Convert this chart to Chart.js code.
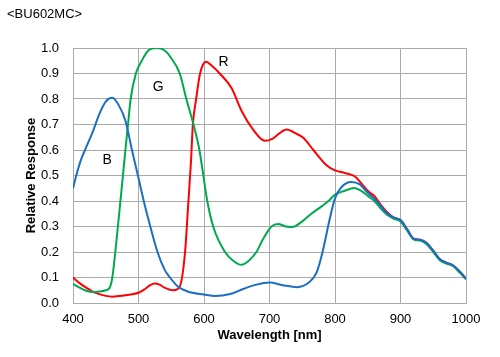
<!DOCTYPE html>
<html>
<head>
<meta charset="utf-8">
<script src="https://cdn.jsdelivr.net/npm/chart.js@4.4.1/dist/chart.umd.min.js"></script>
<style>
html,body{margin:0;padding:0;background:#fff;}
#wrap{width:500px;height:357px;position:relative;}
</style>
</head>
<body>
<div id="wrap"><canvas id="c" width="500" height="357"></canvas></div>
<script>
const chartTitle = "<BU602MC>";
const xTitle = "Wavelength [nm]";
const yTitle = "Relative Response";

const blueWl = [400,405,412,420,430,440,450,460,470,480,490,500,508,518,529,540,548,560,575,600,617,640,660,680,700,720,742,760,772,781,792,800,810,825,838,850,860,870,880,890,900,910,920,930,940,950,960,970,980,990,1000];
const blueVal = [0.45,0.50,0.56,0.61,0.67,0.74,0.79,0.805,0.775,0.715,0.60,0.49,0.40,0.30,0.20,0.13,0.10,0.065,0.045,0.033,0.027,0.035,0.055,0.072,0.08,0.07,0.062,0.08,0.12,0.20,0.33,0.41,0.455,0.475,0.465,0.432,0.41,0.38,0.35,0.335,0.325,0.29,0.252,0.248,0.235,0.205,0.172,0.158,0.148,0.125,0.095];

const greenWl = [400,410,420,430,440,450,456,460,467,472,477,480,484,488,496,505,515,528,540,550,563,573,584,593,599,605,614,632,645,657,668,680,690,703,713,725,735,750,764,780,790,800,815,829,840,850,860,870,880,890,900,910,920,930,940,950,960,970,980,990,1000];
const greenVal = [0.075,0.06,0.048,0.043,0.045,0.05,0.06,0.10,0.26,0.39,0.52,0.60,0.70,0.80,0.90,0.95,0.99,1.0,0.99,0.96,0.90,0.80,0.70,0.60,0.50,0.40,0.30,0.20,0.165,0.15,0.165,0.20,0.25,0.30,0.31,0.30,0.298,0.32,0.35,0.38,0.40,0.425,0.44,0.451,0.44,0.42,0.40,0.37,0.345,0.33,0.32,0.285,0.25,0.245,0.23,0.20,0.168,0.155,0.145,0.12,0.093];

const redWl = [400,410,420,430,440,450,460,470,480,490,500,510,518,525,532,540,553,563,571,576,580,583,588,594,603,612,624,642,658,675,693,705,715,726,740,752,767,787,800,815,830,840,851,860,870,880,890,900,910,920,930,940,950,960,970,980,990,1000];
const redVal = [0.10,0.078,0.06,0.045,0.035,0.028,0.025,0.027,0.03,0.034,0.04,0.055,0.07,0.076,0.072,0.06,0.05,0.065,0.197,0.39,0.55,0.70,0.80,0.90,0.946,0.93,0.90,0.843,0.75,0.68,0.636,0.645,0.665,0.68,0.665,0.647,0.60,0.54,0.52,0.51,0.497,0.47,0.437,0.42,0.385,0.355,0.335,0.325,0.29,0.252,0.248,0.235,0.205,0.172,0.158,0.148,0.125,0.095];

const curveLabels = ["B","G","R"];
const curveLabelWl = [452,530,630];
const curveLabelVal = [0.562,0.848,0.946];

function pts(xs, ys){ return xs.map((x,i)=>({x:x,y:ys[i]})); }

const labelPlugin = {
  id:'curveLabels',
  afterDatasetsDraw(chart){
    const ctx = chart.ctx, xs = chart.scales.x, ys = chart.scales.y;
    ctx.save();
    ctx.font = '14px "Liberation Sans", Arial, sans-serif';
    ctx.fillStyle = '#000';
    ctx.textAlign = 'center';
    ctx.textBaseline = 'middle';
    curveLabels.forEach((t,i)=>{
      ctx.fillText(t, xs.getPixelForValue(curveLabelWl[i]), ys.getPixelForValue(curveLabelVal[i]));
    });
    ctx.restore();
  }
};
const titlePlugin = {
  id:'topTitle',
  afterDraw(chart){
    const ctx = chart.ctx;
    ctx.save();
    ctx.font = '13px "Liberation Sans", Arial, sans-serif';
    ctx.fillStyle = '#000';
    ctx.textAlign = 'left';
    ctx.textBaseline = 'middle';
    ctx.fillText(chartTitle, 7, 14);
    ctx.restore();
  }
};

const font = {family:'"Liberation Sans", Arial, sans-serif', size:13};
const gridColor = '#aaaaaa';

new Chart(document.getElementById('c'), {
  type:'line',
  data:{
    datasets:[
      {label:'B', data:pts(blueWl,blueVal), borderColor:'#1a6fc4', borderWidth:2, pointRadius:0, cubicInterpolationMode:'monotone', fill:false},
      {label:'G', data:pts(greenWl,greenVal), borderColor:'#00a84f', borderWidth:2, pointRadius:0, cubicInterpolationMode:'monotone', fill:false},
      {label:'R', data:pts(redWl,redVal), borderColor:'#ff0000', borderWidth:2, pointRadius:0, cubicInterpolationMode:'monotone', fill:false}
    ]
  },
  options:{
    responsive:false,
    animation:false,
    layout:{padding:{left:0,right:34,top:48,bottom:0}},
    plugins:{legend:{display:false}, tooltip:{enabled:false}},
    scales:{
      x:{
        type:'linear', min:400, max:1000,
        afterFit(s){ s.height = 54; },
        ticks:{stepSize:100, color:'#000', font:font, padding:9, maxRotation:0, callback:v=>String(v)},
        grid:{color:gridColor, drawTicks:false, lineWidth:1},
        border:{color:gridColor},
        title:{display:true, text:xTitle, color:'#000', font:{family:font.family, size:13, weight:'bold'}, padding:{top:0,bottom:14}}
      },
      y:{
        min:0, max:1.0,
        afterFit(s){ s.width = 73; },
        ticks:{stepSize:0.1, color:'#000', font:font, padding:14, callback:v=>v.toFixed(1)},
        grid:{color:gridColor, drawTicks:false, lineWidth:1},
        border:{color:gridColor},
        title:{display:true, text:yTitle, color:'#000', font:{family:font.family, size:13, weight:'bold'}, padding:{top:24,bottom:0}}
      }
    }
  },
  plugins:[labelPlugin, titlePlugin]
});
</script>
</body>
</html>
